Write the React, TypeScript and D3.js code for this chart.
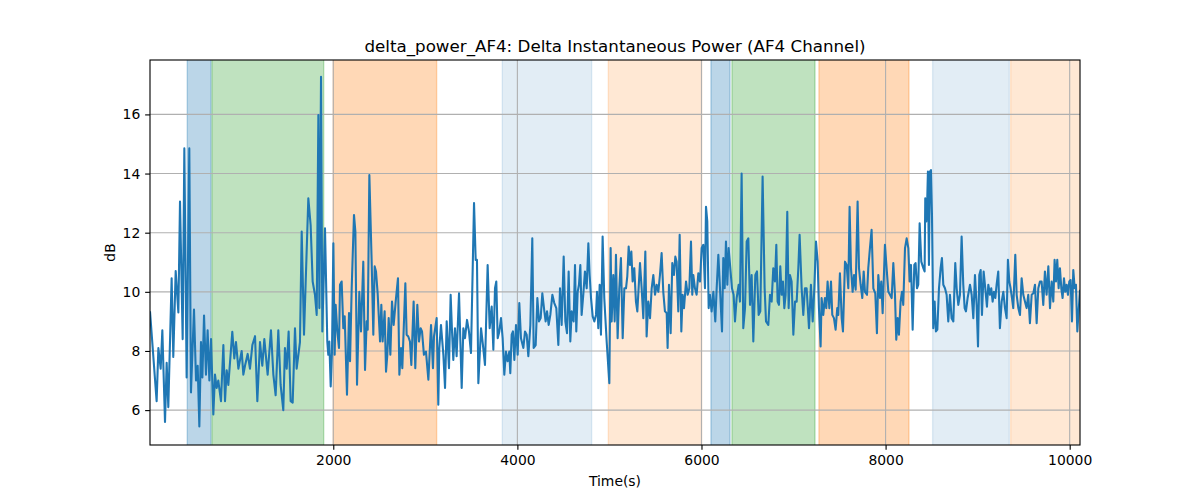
import { useEffect, useRef } from "react";
import * as d3 from "d3";

const title = "delta_power_AF4: Delta Instantaneous Power (AF4 Channel)";
const xLabel = "Time(s)";
const yLabel = "dB";

const xTicks = [2000, 4000, 6000, 8000, 10000];
const yTicks = [6, 8, 10, 12, 14, 16];
const xDomain = [9, 10112];
const yDomain = [4.82, 17.84];

// shaded event windows (seconds)
const spanStarts = [414, 682, 2000, 3836, 4988, 6103, 6331, 7276, 8511, 9359];
const spanEnds = [672, 1896, 3123, 4807, 6002, 6310, 7233, 8254, 9344, 10200];
const spanKinds = ["blue", "green", "orange", "blueLight", "orangeLight", "blue", "green", "orange", "blueLight", "orangeLight"];

// [time (s), dB]
const powerSeg1: [number, number][] = [
  [9, 9.34], [81, 6.3], [100, 8.1], [125, 7.4], [143, 8.7], [172, 5.6], [190, 7.6], [208, 6.1],
  [244, 10.46], [262, 7.8], [288, 10.7], [317, 9.3], [335, 13.05], [364, 8.4], [382, 14.85], [407, 7.1],
  [436, 14.85], [454, 6.6], [487, 9.4], [509, 7.0], [527, 7.5], [545, 5.45], [563, 8.3], [578, 7.1],
  [596, 9.2], [617, 7.2], [635, 8.7], [654, 7.0], [672, 8.4], [697, 5.85], [715, 7.2], [733, 6.75],
  [751, 7.0], [780, 6.3], [806, 8.2], [824, 6.3], [842, 7.35], [860, 6.85], [903, 8.65], [925, 7.75],
  [943, 8.3], [969, 7.4], [1005, 8.0], [1023, 7.2], [1041, 7.5], [1070, 7.9], [1095, 7.4], [1121, 8.2],
  [1150, 8.5], [1175, 6.3], [1204, 8.3], [1229, 7.5], [1251, 8.4], [1287, 7.2], [1323, 8.7], [1349, 7.2],
  [1374, 6.5], [1403, 8.7], [1428, 6.85], [1457, 6.0], [1475, 8.1], [1494, 7.4], [1515, 8.66], [1537, 6.3],
  [1559, 6.25], [1584, 8.77], [1602, 7.4], [1638, 8.3], [1657, 12.04],
];

const powerSeg2: [number, number][] = [
  [1682, 8.55], [1729, 13.16], [1754, 12.26], [1776, 10.35], [1801, 9.9], [1820, 9.22], [1838, 15.98], [1849, 9.45],
  [1867, 17.27], [1881, 8.66], [1910, 12.15], [1935, 8.32], [1946, 7.87], [1957, 8.32], [1972, 6.8], [1986, 7.98],
  [2001, 11.64], [2015, 7.87], [2026, 9.56], [2044, 8.66], [2062, 8.1], [2073, 10.24], [2091, 10.35], [2109, 8.77],
  [2124, 9.17], [2149, 6.52], [2171, 9.28], [2182, 7.65], [2200, 10.12], [2225, 12.6], [2240, 12.04], [2258, 6.86],
  [2283, 10.0], [2301, 8.66], [2326, 11.02], [2345, 7.36], [2363, 9.0], [2374, 8.72], [2392, 13.95], [2417, 11.02],
  [2435, 8.55], [2450, 10.86], [2464, 10.69], [2482, 9.95], [2508, 8.32], [2522, 9.56], [2536, 8.32], [2558, 9.34],
  [2573, 7.3], [2587, 7.87], [2602, 9.11], [2620, 7.87], [2638, 9.67], [2656, 8.88], [2678, 9.67], [2703, 10.46],
  [2718, 7.2], [2736, 8.1], [2750, 7.42], [2783, 10.29], [2797, 8.55], [2815, 8.49], [2833, 8.32], [2848, 7.53],
  [2873, 9.67], [2891, 7.42], [2913, 9.56], [2931, 8.32], [2949, 8.77], [2964, 8.66], [2985, 7.87], [3007, 7.98],
  [3033, 7.03], [3062, 8.88], [3083, 7.42], [3094, 8.49], [3123, 9.11], [3141, 6.18], [3152, 8.1], [3170, 8.88],
  [3196, 7.87], [3214, 6.75], [3232, 9.0], [3257, 7.42], [3275, 9.9], [3290, 8.66], [3304, 7.7], [3322, 8.77],
];

const powerSeg3: [number, number][] = [
  [3340, 7.82], [3366, 9.95], [3395, 6.75], [3413, 8.77], [3431, 8.43], [3453, 9.05], [3474, 8.66], [3496, 7.93],
  [3529, 13.0], [3547, 11.08], [3561, 11.08], [3576, 6.91], [3605, 8.77], [3626, 8.2], [3648, 7.53], [3677, 10.91],
  [3699, 8.77], [3721, 9.5], [3739, 8.04], [3757, 10.12], [3771, 10.35], [3786, 8.43], [3804, 8.66], [3822, 9.11],
  [3840, 8.43], [3858, 7.2], [3876, 7.98], [3894, 7.65], [3912, 7.98], [3923, 7.25], [3938, 8.55], [3952, 8.66],
  [3967, 7.7], [3985, 8.88], [4003, 7.87], [4021, 9.62], [4039, 8.43], [4065, 8.1], [4083, 8.66], [4101, 8.55],
  [4119, 7.82], [4141, 8.88], [4162, 11.81], [4177, 8.1], [4199, 8.2], [4217, 9.79], [4235, 9.0], [4253, 9.11],
  [4271, 9.95], [4293, 9.34], [4307, 9.0], [4322, 9.34], [4340, 8.88], [4358, 9.22], [4380, 9.9], [4401, 9.62],
  [4423, 9.45], [4445, 8.2], [4463, 10.12], [4481, 8.88], [4503, 11.19], [4521, 9.0], [4539, 8.6], [4557, 10.69],
  [4575, 8.32], [4590, 9.34], [4611, 9.0], [4626, 10.91], [4640, 8.66], [4655, 10.0], [4669, 10.24], [4684, 10.91],
  [4698, 9.22], [4716, 9.9], [4734, 10.69], [4753, 10.12], [4771, 11.64], [4785, 10.57], [4800, 9.79], [4818, 9.17],
  [4836, 9.0], [4854, 9.22], [4865, 10.0], [4879, 8.77], [4894, 10.24], [4908, 8.55], [4926, 11.87], [4944, 9.79],
  [4970, 8.32], [4999, 6.91], [5013, 11.48], [5024, 9.0],
];

const powerSeg4: [number, number][] = [
  [5042, 10.57], [5057, 9.0], [5071, 11.25], [5089, 8.43], [5107, 10.12], [5125, 11.14], [5144, 8.43], [5162, 10.12],
  [5180, 10.12], [5194, 10.52], [5209, 11.53], [5223, 10.91], [5238, 11.36], [5252, 10.35], [5270, 10.8], [5288, 9.67],
  [5303, 9.34], [5332, 10.97], [5350, 10.12], [5368, 9.11], [5390, 11.36], [5404, 8.49], [5422, 9.67], [5441, 9.11],
  [5459, 10.12], [5477, 10.57], [5495, 9.9], [5513, 10.24], [5531, 10.0], [5549, 10.57], [5567, 11.31], [5585, 10.0],
  [5603, 9.34], [5622, 9.28], [5632, 8.1], [5647, 10.24], [5665, 8.6], [5683, 10.97], [5701, 10.57], [5716, 11.19],
  [5730, 11.02], [5748, 9.34], [5763, 11.93], [5781, 8.66], [5795, 9.9], [5810, 9.45], [5832, 10.35], [5850, 9.9],
  [5868, 10.12], [5886, 11.7], [5900, 9.9], [5911, 10.57], [5929, 10.12], [5947, 9.9], [5966, 10.63], [5984, 10.35],
  [6002, 11.48], [6020, 11.59], [6038, 10.12], [6049, 12.88], [6063, 12.38], [6078, 9.45], [6092, 9.9], [6110, 9.34],
  [6129, 10.0], [6150, 9.0], [6165, 10.12], [6183, 11.25], [6201, 10.12], [6223, 8.66], [6237, 11.14], [6252, 10.12],
  [6266, 11.7], [6281, 10.24], [6295, 11.48], [6313, 10.8], [6331, 10.12], [6349, 9.9], [6364, 9.0], [6382, 9.79],
  [6404, 10.24], [6418, 9.67], [6436, 14.0], [6454, 8.77], [6473, 9.45], [6491, 11.7], [6509, 11.81], [6527, 9.56],
  [6545, 10.57], [6563, 8.32], [6585, 10.57], [6603, 10.69], [6621, 9.22], [6639, 9.34], [6664, 13.9], [6686, 10.12],
  [6701, 9.0],
];

const powerSeg5: [number, number][] = [
  [6726, 8.88], [6744, 9.9], [6762, 9.67], [6780, 10.8], [6798, 10.35], [6813, 11.59], [6827, 9.67], [6842, 9.56],
  [6856, 10.86], [6871, 9.9], [6885, 10.35], [6900, 9.45], [6914, 9.9], [6932, 12.71], [6947, 9.45], [6961, 10.57],
  [6979, 10.35], [6998, 8.55], [7016, 9.67], [7034, 9.67], [7052, 10.8], [7066, 11.93], [7088, 10.12], [7106, 9.22],
  [7124, 10.12], [7142, 10.12], [7168, 8.77], [7189, 10.24], [7208, 9.0], [7226, 10.12], [7244, 11.7], [7262, 11.02],
  [7276, 9.45], [7294, 8.15], [7305, 9.79], [7323, 9.22], [7341, 9.79], [7356, 9.45], [7370, 10.35], [7389, 9.45],
  [7407, 10.35], [7421, 9.22], [7439, 9.11], [7457, 8.72], [7475, 9.45], [7486, 9.22], [7504, 10.63], [7523, 9.11],
  [7537, 8.66], [7559, 11.02], [7577, 10.91], [7595, 10.12], [7609, 12.88], [7624, 10.8], [7642, 10.0], [7657, 10.57],
  [7675, 10.07], [7696, 13.05], [7711, 10.8], [7729, 10.24], [7747, 9.79], [7762, 10.69], [7776, 10.0], [7798, 9.9],
  [7812, 10.8], [7830, 11.48], [7848, 12.1], [7867, 10.12], [7888, 9.95], [7906, 8.6], [7921, 10.57], [7939, 9.79],
  [7953, 10.35], [7968, 9.28], [7993, 11.59], [8011, 10.8], [8030, 10.0], [8048, 9.9], [8066, 9.79], [8084, 10.97],
  [8102, 9.9], [8116, 8.38], [8131, 9.11], [8145, 8.55], [8163, 9.67], [8178, 10.0], [8192, 9.56], [8211, 11.48],
  [8229, 11.81], [8247, 11.48], [8261, 10.35], [8276, 10.91], [8294, 8.72], [8312, 10.91], [8326, 10.97], [8341, 10.12],
  [8355, 10.24], [8370, 12.32], [8388, 11.02],
];

const powerSeg6: [number, number][] = [
  [8410, 10.8], [8424, 10.69], [8431, 13.16], [8442, 12.38], [8453, 13.16], [8460, 14.07], [8471, 10.91], [8482, 14.07],
  [8493, 14.12], [8504, 12.6], [8518, 8.77], [8533, 9.67], [8547, 8.66], [8562, 8.72], [8580, 10.12], [8598, 10.8],
  [8612, 11.14], [8627, 10.24], [8645, 10.12], [8663, 9.9], [8681, 9.0], [8699, 9.9], [8717, 9.11], [8736, 9.0],
  [8757, 10.97], [8772, 10.12], [8790, 9.56], [8808, 9.9], [8826, 11.87], [8844, 10.24], [8859, 9.45], [8873, 9.34],
  [8891, 9.79], [8917, 10.24], [8935, 9.9], [8953, 9.11], [8971, 10.57], [8989, 9.56], [9004, 8.15], [9018, 10.57],
  [9033, 10.74], [9047, 9.22], [9065, 10.69], [9083, 10.12], [9101, 9.5], [9116, 10.24], [9134, 9.9], [9148, 10.12],
  [9163, 9.67], [9177, 10.0], [9192, 9.79], [9206, 10.24], [9224, 10.69], [9242, 8.77], [9261, 9.67], [9279, 10.0],
  [9297, 9.45], [9315, 9.11], [9329, 11.08], [9344, 10.35], [9358, 10.12], [9373, 9.79], [9387, 9.45], [9409, 11.25],
  [9424, 9.9], [9442, 9.45], [9460, 9.22], [9478, 10.46], [9496, 9.9], [9514, 9.67], [9532, 9.45], [9550, 9.9],
  [9568, 8.94], [9587, 9.9], [9605, 9.95], [9623, 10.24], [9641, 8.94], [9659, 10.12], [9677, 10.35], [9695, 10.35],
  [9713, 9.56], [9731, 10.69], [9749, 9.9], [9768, 10.86], [9786, 9.45], [9804, 10.35], [9822, 9.67], [9836, 11.08],
  [9851, 10.35], [9865, 11.08], [9880, 10.12], [9894, 10.8], [9909, 10.12], [9923, 9.79], [9938, 10.46], [9952, 10.0],
  [9967, 10.24], [9981, 9.9], [9996, 10.35], [10010, 10.4], [10025, 9.0], [10039, 10.74], [10054, 10.12], [10068, 10.24],
  [10083, 8.66], [10112, 10.07],
];

const spanStyle: Record<string, { color: string; alpha: number }> = {
  blue: { color: "#1f77b4", alpha: 0.3 },
  green: { color: "#2ca02c", alpha: 0.3 },
  orange: { color: "#ff7f0e", alpha: 0.3 },
  blueLight: { color: "#1f77b4", alpha: 0.13 },
  orangeLight: { color: "#ff7f0e", alpha: 0.18 },
};

const FONT = "DejaVu Sans, sans-serif";
const PT = 100 / 72; // matplotlib points -> px at 100 dpi

export default function App() {
  const svgRef = useRef<SVGSVGElement>(null);

  useEffect(() => {
    const svg = d3.select(svgRef.current);
    svg.selectAll("*").remove();

    const width = 1200;
    const height = 500;
    const margin = { top: 60, right: 120, bottom: 55, left: 150 };
    const W = width - margin.left - margin.right;
    const H = height - margin.top - margin.bottom;

    const x = d3.scaleLinear().domain(xDomain).range([0, W]);
    const y = d3.scaleLinear().domain(yDomain).range([H, 0]);

    svg.append("rect").attr("width", width).attr("height", height).attr("fill", "#ffffff");

    svg.append("defs").append("clipPath").attr("id", "plot-clip")
      .append("rect").attr("width", W).attr("height", H);

    const g = svg.append("g").attr("transform", `translate(${margin.left},${margin.top})`);

    // Event windows
    const spans = g.append("g").attr("clip-path", "url(#plot-clip)");
    spanStarts.forEach((s, i) => {
      const st = spanStyle[spanKinds[i]];
      spans.append("rect")
        .attr("x", x(s)).attr("y", -2)
        .attr("width", x(spanEnds[i]) - x(s)).attr("height", H + 4)
        .attr("fill", st.color).attr("fill-opacity", st.alpha)
        .attr("stroke", st.color).attr("stroke-opacity", st.alpha).attr("stroke-width", PT);
    });

    // Grid
    g.selectAll(".vg").data(xTicks).enter().append("line")
      .attr("x1", d => x(d)).attr("x2", d => x(d))
      .attr("y1", 0).attr("y2", H)
      .attr("stroke", "#b0b0b0").attr("stroke-width", 0.8 * PT);
    g.selectAll(".hg").data(yTicks).enter().append("line")
      .attr("x1", 0).attr("x2", W)
      .attr("y1", d => y(d)).attr("y2", d => y(d))
      .attr("stroke", "#b0b0b0").attr("stroke-width", 0.8 * PT);

    // Trace
    const series = [...powerSeg1, ...powerSeg2, ...powerSeg3, ...powerSeg4, ...powerSeg5, ...powerSeg6];
    g.append("path")
      .datum(series)
      .attr("clip-path", "url(#plot-clip)")
      .attr("d", d3.line<[number, number]>().x(d => x(d[0])).y(d => y(d[1])))
      .attr("fill", "none")
      .attr("stroke", "#1f77b4")
      .attr("stroke-width", 1.5 * PT)
      .attr("stroke-linejoin", "round");

    // Axes frame
    g.append("rect").attr("width", W).attr("height", H)
      .attr("fill", "none").attr("stroke", "#000").attr("stroke-width", 0.8 * PT);

    g.append("g").attr("transform", `translate(0,${H})`)
      .call(d3.axisBottom(x).tickValues(xTicks).tickFormat(d3.format("d")).tickSize(3.5 * PT).tickPadding(3.5 * PT))
      .call(ax => ax.select(".domain").remove())
      .call(ax => ax.selectAll(".tick line").attr("stroke", "#000").attr("stroke-width", 0.8 * PT))
      .call(ax => ax.selectAll(".tick text").attr("fill", "#000").attr("font-size", 13.9).attr("font-family", FONT));

    g.append("g")
      .call(d3.axisLeft(y).tickValues(yTicks).tickFormat(d3.format("d")).tickSize(3.5 * PT).tickPadding(3.5 * PT))
      .call(ax => ax.select(".domain").remove())
      .call(ax => ax.selectAll(".tick line").attr("stroke", "#000").attr("stroke-width", 0.8 * PT))
      .call(ax => ax.selectAll(".tick text").attr("fill", "#000").attr("font-size", 13.9).attr("font-family", FONT));

    // Labels
    svg.append("text")
      .attr("x", margin.left + W / 2).attr("y", 52)
      .attr("text-anchor", "middle").attr("font-family", FONT).attr("font-size", 16.7)
      .attr("fill", "#000").text(title);

    svg.append("text")
      .attr("x", margin.left + W / 2).attr("y", 486)
      .attr("text-anchor", "middle").attr("font-family", FONT).attr("font-size", 13.9)
      .attr("fill", "#000").text(xLabel);

    svg.append("text")
      .attr("transform", `translate(115,${margin.top + H / 2}) rotate(-90)`)
      .attr("text-anchor", "middle").attr("font-family", FONT).attr("font-size", 13.9)
      .attr("fill", "#000").text(yLabel);
  }, []);

  return (
    <svg
      ref={svgRef}
      width={1200}
      height={500}
      style={{ position: "absolute", left: 0, top: 0, display: "block" }}
    />
  );
}
